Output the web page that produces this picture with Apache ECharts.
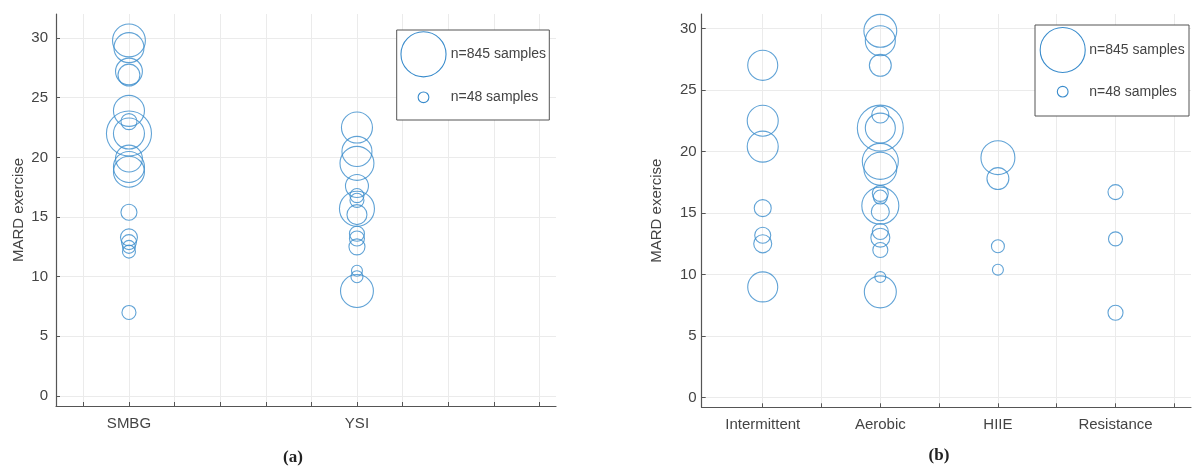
<!DOCTYPE html>
<html><head><meta charset="utf-8">
<script src="https://cdn.jsdelivr.net/npm/echarts@6/dist/echarts.min.js"></script>
<style>html,body{margin:0;padding:0;background:#fff}#c{width:1192px;height:470px}</style>
</head><body><div id="c"></div>
<script>
// ---- data ----
const categoriesA = ['SMBG', 'YSI'];
const categoriesB = ['Intermittent', 'Aerobic', 'HIIE', 'Resistance'];
const yTickValues = [0, 5, 10, 15, 20, 25, 30];
const xTickValuesA = [0.8, 1, 1.2, 1.4, 1.6, 1.8, 2, 2.2, 2.4, 2.6, 2.8];
const xTickValuesB = [1, 1.5, 2, 2.5, 3, 3.5, 4, 4.5];
const legendSamples = [845, 48];
const legendLabels = ['n=845 samples', 'n=48 samples'];
const yAxisTitle = 'MARD exercise';

// panel (a)
const smbgMard = [29.8, 29.2, 27.2, 26.9, 23.9, 23.0, 22.0, 22.0, 19.9, 19.2, 18.8, 15.4, 13.3, 12.9, 12.5, 12.1, 7.0];
const smbgN    = [450, 375, 300, 200, 400, 107, 845, 400, 300, 400, 400, 107, 120, 94, 70, 70, 82];
const ysiMard  = [22.5, 20.5, 19.5, 17.6, 16.8, 16.4, 15.7, 15.2, 13.6, 13.2, 12.5, 10.5, 10.0, 8.8];
const ysiN     = [400, 375, 480, 220, 82, 82, 510, 166, 94, 94, 107, 50, 60, 450];

// panel (b)
const intermittentMard = [27.0, 22.5, 20.4, 15.4, 13.2, 12.5, 9.0];
const intermittentN    = [375, 400, 400, 120, 107, 135, 375];
const aerobicMard = [29.8, 29.0, 27.0, 23.0, 21.9, 21.9, 19.2, 18.6, 16.6, 16.3, 15.6, 15.1, 13.5, 13.0, 12.0, 9.8, 8.6];
const aerobicN    = [450, 375, 200, 120, 880, 375, 540, 450, 107, 82, 570, 135, 107, 150, 94, 50, 426];
const hiieMard = [19.5, 17.8, 12.3, 10.4];
const hiieN    = [480, 200, 70, 50];
const resistanceMard = [16.7, 12.9, 6.9];
const resistanceN    = [94, 82, 94];

// ---- styling ----
const BLUE = '#3a8ccc';
const AXIS = '#555555';
const GRIDC = '#ebebeb';
const TXT = '#444444';
const FONT = 'Liberation Sans, Arial, Helvetica, sans-serif';
const sizeOf = n => 1.55 * Math.sqrt(n);

function pts(pos, mard, n) { return mard.map((v, k) => [pos, v, n[k]]); }

function scatter(name, xi, yi, data) {
  return {
    type: 'scatter', name, xAxisIndex: xi, yAxisIndex: yi, data,
    symbol: 'circle',
    symbolSize: v => sizeOf(v[2]),
    itemStyle: { color: 'rgba(0,0,0,0)', borderColor: BLUE, borderWidth: 1.1 },
    emphasis: { disabled: true },
    silent: true, clip: false
  };
}

function xAxisCfg(gi, min, max, ticks, cats) {
  return {
    type: 'value', gridIndex: gi, min, max,
    axisLine: { show: true, onZero: false, lineStyle: { color: AXIS, width: 1.2 } },
    axisTick: { show: true, inside: true, length: 4, customValues: ticks, lineStyle: { color: AXIS } },
    axisLabel: {
      customValues: cats.map((c, i) => i + 1),
      formatter: v => cats[Math.round(v) - 1] || '',
      color: TXT, fontSize: 15, fontFamily: FONT, margin: 10
    },
    splitLine: { show: true, lineStyle: { color: GRIDC, width: 1 } }
  };
}

function yAxisCfg(gi, min, max, gap, lblMargin) {
  return {
    type: 'value', gridIndex: gi, min, max,
    name: yAxisTitle, nameLocation: 'middle', nameGap: gap,
    nameTextStyle: { color: TXT, fontSize: 15, fontFamily: FONT },
    axisLine: { show: true, onZero: false, lineStyle: { color: AXIS, width: 1.2 } },
    axisTick: { show: true, inside: true, length: 4, customValues: yTickValues, lineStyle: { color: AXIS } },
    axisLabel: { customValues: yTickValues, color: TXT, fontSize: 15, fontFamily: FONT, margin: lblMargin },
    splitLine: { show: true, lineStyle: { color: GRIDC, width: 1 } }
  };
}

function legendGroup(x, y, w, h, cx, cy1, cy2, tx) {
  const rs = legendSamples.map(n => sizeOf(n) / 2);
  return {
    type: 'group', silent: true, z: 100,
    children: [
      { type: 'rect', z: 100, shape: { x, y, width: w, height: h }, style: { fill: '#fff', stroke: AXIS, lineWidth: 1 } },
      { type: 'circle', z: 101, shape: { cx, cy: cy1, r: rs[0] }, style: { fill: 'none', stroke: BLUE, lineWidth: 1.1 } },
      { type: 'circle', z: 101, shape: { cx, cy: cy2, r: rs[1] }, style: { fill: 'none', stroke: BLUE, lineWidth: 1.1 } },
      { type: 'text', z: 101, x: tx, y: cy1, style: { text: legendLabels[0], fill: TXT, font: '14px ' + FONT, textVerticalAlign: 'middle' } },
      { type: 'text', z: 101, x: tx, y: cy2, style: { text: legendLabels[1], fill: TXT, font: '14px ' + FONT, textVerticalAlign: 'middle' } }
    ]
  };
}

const chart = echarts.init(document.getElementById('c'), null, { renderer: 'canvas' });
chart.setOption({
  animation: false,
  backgroundColor: '#ffffff',
  grid: [
    { left: 56, top: 14, width: 500, height: 392 },
    { left: 701.7, top: 14, width: 489.3, height: 393.3 }
  ],
  xAxis: [
    xAxisCfg(0, 0.68, 2.873, xTickValuesA, categoriesA),
    xAxisCfg(1, 0.481, 4.642, xTickValuesB, categoriesB)
  ],
  yAxis: [
    yAxisCfg(0, -0.84, 32.02, 30, 8),
    yAxisCfg(1, -0.78, 31.17, 37, 5)
  ],
  series: [
    scatter('SMBG', 0, 0, pts(1, smbgMard, smbgN)),
    scatter('YSI', 0, 0, pts(2, ysiMard, ysiN)),
    scatter('Intermittent', 1, 1, pts(1, intermittentMard, intermittentN)),
    scatter('Aerobic', 1, 1, pts(2, aerobicMard, aerobicN)),
    scatter('HIIE', 1, 1, pts(3, hiieMard, hiieN)),
    scatter('Resistance', 1, 1, pts(4, resistanceMard, resistanceN))
  ],
  graphic: [
    legendGroup(396.7, 30, 152.6, 90, 423.5, 54.3, 97.3, 450.7),
    legendGroup(1035, 25, 154, 91, 1062.7, 50, 91.7, 1089.3),
    { type: 'text', x: 293, y: 458, style: { text: '(a)', fill: '#222', font: 'bold 17px "Liberation Serif", "DejaVu Serif", serif', textAlign: 'center', textVerticalAlign: 'middle' } },
    { type: 'text', x: 939, y: 456, style: { text: '(b)', fill: '#222', font: 'bold 17px "Liberation Serif", "DejaVu Serif", serif', textAlign: 'center', textVerticalAlign: 'middle' } }
  ]
});
</script>
</body></html>
